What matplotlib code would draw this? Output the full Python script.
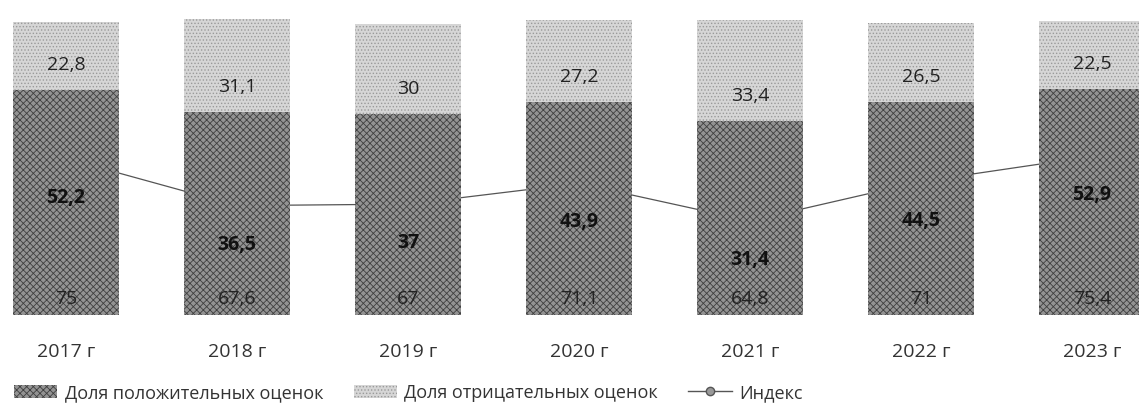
import matplotlib
matplotlib.use("Agg")
import matplotlib.pyplot as plt
from matplotlib.patches import Patch
from matplotlib.lines import Line2D

years = ["2017 г", "2018 г", "2019 г", "2020 г", "2021 г", "2022 г", "2023 г"]
positive = [75, 67.6, 67, 71.1, 64.8, 71, 75.4]
negative = [22.8, 31.1, 30, 27.2, 33.4, 26.5, 22.5]
index = [52.2, 36.5, 37, 43.9, 31.4, 44.5, 52.9]

def fmt(v):
    s = f"{v:g}"
    return s.replace(".", ",")

plt.rcParams['font.family'] = ['Open Sans', 'DejaVu Sans']
plt.rcParams['hatch.linewidth'] = 0.6

fig = plt.figure(figsize=(11.39, 4.18), dpi=100)
ax = fig.add_axes([0, 0.246, 1, 0.754])

x = list(range(len(years)))
w = 0.62
ax.plot(x, index, color='#555555', lw=0.9, marker='o', ms=4, zorder=1)
bp = ax.bar(x, positive, width=w, color='#939393', hatch='xxxxx', edgecolor='#404040', lw=0, zorder=2)
bn = ax.bar(x, negative, width=w, bottom=positive, color='#d6d6d6', hatch='.....', edgecolor='#9a9a9a', lw=0, zorder=2)

for i in x:
    ax.text(i, 5.5, fmt(positive[i]), ha='center', va='center', fontsize=14, color='#222222', zorder=3)
    ax.text(i, positive[i] + 8.3, fmt(negative[i]), ha='center', va='center', fontsize=14, color='#222222', zorder=3)
    ax.text(i, index[i] - 13, fmt(index[i]), ha='center', va='center', fontsize=14, fontweight='bold', color='#111111', zorder=3)

ax.set_xlim(-0.386, 6.275)
ax.set_ylim(0, 105)
ax.set_xticks(x)
ax.set_xticklabels(years, fontsize=14, color='#333333')
ax.tick_params(axis='x', length=0, pad=20)
ax.set_yticks([])
for s in ax.spines.values():
    s.set_visible(False)

handles = [
    Patch(facecolor='#939393', hatch='xxxxx', edgecolor='#404040', lw=0, label='Доля положительных оценок'),
    Patch(facecolor='#d6d6d6', hatch='.....', edgecolor='#9a9a9a', lw=0, label='Доля отрицательных оценок'),
    Line2D([0], [0], color='#555555', lw=1.0, marker='o', ms=6, markerfacecolor='#999999', label='Индекс'),
]
fig.legend(handles=handles, loc='lower left', bbox_to_anchor=(-0.002, 0.0), ncol=3, frameon=False,
           fontsize=13, handlelength=2.4, handletextpad=0.4, columnspacing=1.7, labelcolor='#333333')

fig.savefig("out.png", dpi=100)
